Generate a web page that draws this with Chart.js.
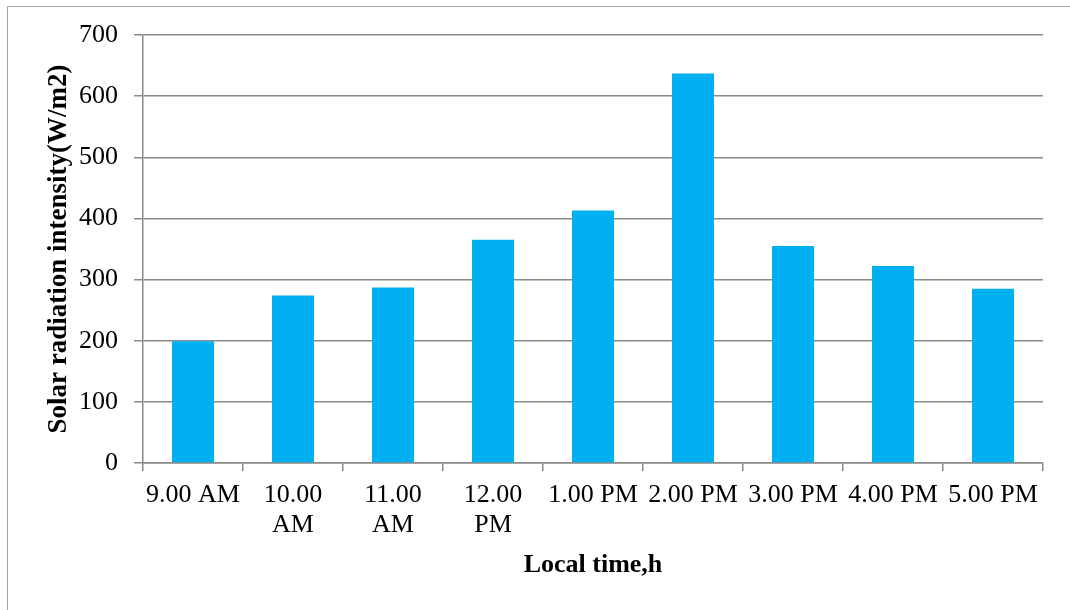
<!DOCTYPE html>
<html>
<head>
<meta charset="utf-8">
<script src="https://cdn.jsdelivr.net/npm/chart.js@4"></script>
<style>
  html, body { margin: 0; padding: 0; background: #fff; }
  #wrap { position: relative; width: 1070px; height: 610px; }
  #frame { position: absolute; left: 7px; top: 6px; right: 0; bottom: 0;
           border-left: 1.5px solid #a6a6a6; border-top: 1.5px solid #a6a6a6; }
  canvas { position: absolute; left: 0; top: 0; }
</style>
</head>
<body>
<div id="wrap">
  <div id="frame"></div>
  <canvas id="myChart" width="1070" height="610"></canvas>
</div>
<script>
// local time labels (split into lines like the original)
const times = ['9.00 AM', ['10.00', 'AM'], ['11.00', 'AM'], ['12.00', 'PM'],
  '1.00 PM', '2.00 PM', '3.00 PM', '4.00 PM', '5.00 PM']
// solar radiation intensity, W/m2
const radiation = [199, 274, 287, 365, 413, 637, 355, 322, 285]
const yTicks = [0, 100, 200, 300, 400, 500, 600, 700]

const serif = "'Liberation Serif', 'Times New Roman', serif"
const gridGray = '#8a8a8a'

let grapharea = document.getElementById('myChart')
let myChart = new Chart(grapharea, {
  type: 'bar',
  data: {
    labels: times,
    datasets: [{
      data: radiation,
      backgroundColor: '#00B0F0',
      borderWidth: 0,
      categoryPercentage: 1,
      barPercentage: 0.42
    }]
  },
  options: {
    responsive: false,
    animation: false,
    layout: { padding: { left: 0, top: 35, right: 27, bottom: 25 } },
    plugins: { legend: { display: false }, tooltip: { enabled: false } },
    scales: {
      x: {
        afterFit: (scale) => { scale.height = 122 },
        grid: { drawOnChartArea: false, color: gridGray, lineWidth: 1.5, tickLength: 8, offset: true },
        border: { color: gridGray, width: 1.5 },
        ticks: { color: '#000', padding: 9, maxRotation: 0, autoSkip: false,
                 font: { family: serif, size: 26, lineHeight: 1.15 } },
        title: { display: true, text: 'Local time,h', color: '#000',
                 padding: { top: 0, bottom: 4 },
                 font: { family: serif, size: 26, weight: 'bold' } }
      },
      y: {
        min: 0,
        max: 700,
        afterFit: (scale) => { scale.width = 143 },
        afterBuildTicks: (scale) => { scale.ticks = yTicks.map(v => ({ value: v })) },
        grid: { color: gridGray, lineWidth: 1.5, tickLength: 9 },
        border: { color: gridGray, width: 1.5 },
        ticks: { color: '#000', padding: 16, font: { family: serif, size: 26 } },
        title: { display: true, text: 'Solar radiation intensity(W/m2)', color: '#000',
                 padding: { top: 43, bottom: 0 },
                 font: { family: serif, size: 27, weight: 'bold' } }
      }
    }
  }
})
</script>
</body>
</html>
